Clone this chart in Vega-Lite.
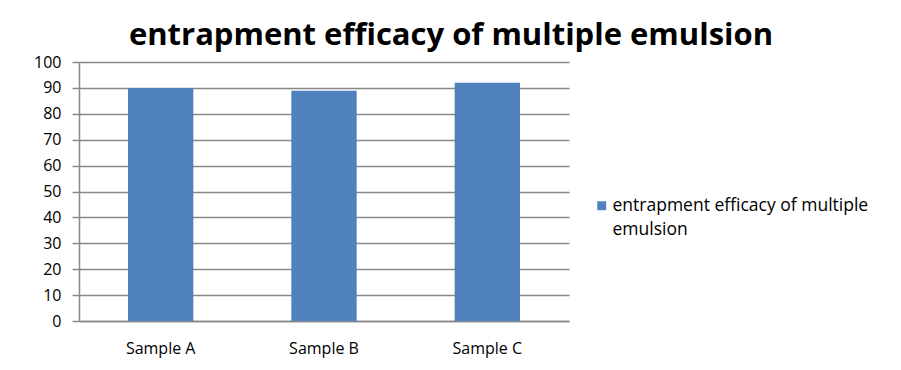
{
  "$schema": "https://vega.github.io/schema/vega-lite/v6.json",
  "width": 490,
  "height": 259,
  "autosize": {"type": "none"},
  "padding": {"left": 79, "top": 62, "right": 332, "bottom": 49},
  "background": "white",
  "title": {
    "text": "entrapment efficacy of multiple emulsion",
    "font": "Open Sans",
    "fontSize": 31,
    "fontWeight": "bold",
    "color": "black",
    "anchor": "middle",
    "dx": 127,
    "offset": 2
  },
  "data": {
    "values": [
      {"sample": "Sample A", "value": 90.0, "series": "entrapment efficacy of multiple emulsion"},
      {"sample": "Sample B", "value": 88.9, "series": "entrapment efficacy of multiple emulsion"},
      {"sample": "Sample C", "value": 92.0, "series": "entrapment efficacy of multiple emulsion"}
    ]
  },
  "mark": {"type": "bar"},
  "encoding": {
    "x": {
      "field": "sample",
      "type": "nominal",
      "scale": {"paddingInner": 0.6, "paddingOuter": 0.3},
      "axis": {
        "title": null,
        "labelAngle": 0,
        "labelFont": "Open Sans",
        "labelFontSize": 16,
        "labelColor": "black",
        "labelPadding": 19,
        "domainColor": "#888888",
        "domainWidth": 1.5,
        "ticks": false,
        "grid": false
      }
    },
    "y": {
      "field": "value",
      "type": "quantitative",
      "scale": {"domain": [0, 100]},
      "axis": {
        "title": null,
        "values": [0, 10, 20, 30, 40, 50, 60, 70, 80, 90, 100],
        "labelFont": "Open Sans",
        "labelFontSize": 16,
        "labelColor": "black",
        "labelPadding": 11,
        "tickSize": 7,
        "tickColor": "#888888",
        "tickWidth": 1.5,
        "domainColor": "#888888",
        "domainWidth": 1.5,
        "gridColor": "#888888",
        "gridWidth": 1.5
      }
    },
    "color": {
      "field": "series",
      "type": "nominal",
      "scale": {"range": ["#4F81BD"]},
      "legend": {
        "title": null,
        "orient": "none",
        "legendX": 514,
        "legendY": 135,
        "symbolType": "square",
        "symbolSize": 80,
        "symbolStrokeWidth": 0,
        "labelOffset": 2,
        "labelFont": "Open Sans",
        "labelFontSize": 17.5,
        "labelColor": "black",
        "labelLimit": 400,
        "labelExpr": "['entrapment efficacy of multiple', 'emulsion']"
      }
    }
  },
  "config": {
    "view": {"stroke": null},
    "style": {"guide-label": {"lineHeight": 24}}
  }
}
